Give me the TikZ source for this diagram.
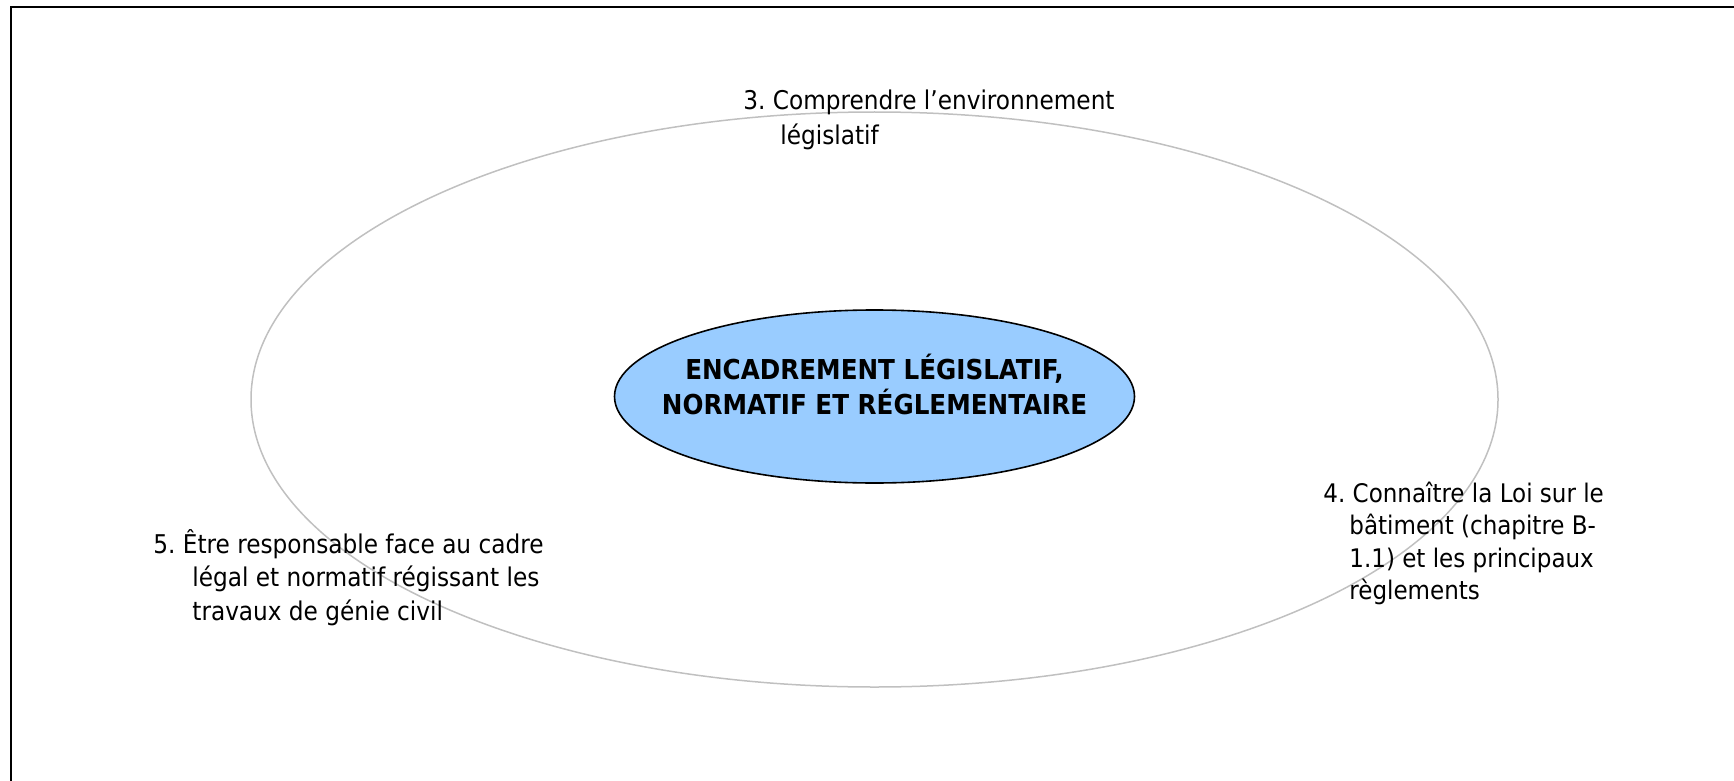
\documentclass[tikz,border=0pt]{standalone}
\usepackage{fontspec}
\setmainfont{DejaVu Sans Condensed}
\usetikzlibrary{shapes.geometric}
\definecolor{ringgray}{HTML}{C0C0C0}
\definecolor{coreblue}{HTML}{99CCFF}
\frenchspacing
\begin{document}
\begin{tikzpicture}[x=0.5pt,y=-0.5pt,
  lbl/.style={inner sep=0pt, anchor=base west},
  ringstyle/.style={ellipse, draw=ringgray, line width=0.75pt, inner sep=0pt},
  corestyle/.style={ellipse, draw=black, fill=coreblue, line width=0.8pt, inner sep=0pt},
  titlestyle/.style={inner sep=0pt, anchor=base, font=\bfseries\fontsize{13.7}{16}\selectfont}]
\useasboundingbox (0,0) rectangle (1734,781);
\draw[line width=1pt] (11,781) -- (11,7.5) -- (1734,7.5);
\node[ringstyle, minimum width=623.5pt, minimum height=287.5pt] (ring) at (874.5,399.5) {};
\node[corestyle, minimum width=260pt, minimum height=86.5pt] (core) at (874.5,396.5) {};
\node[titlestyle] (title) at (874.5,379) {\begin{tabular}[t]{@{}c@{}}ENCADREMENT LÉGISLATIF,\\NORMATIF ET RÉGLEMENTAIRE\end{tabular}};
\node[lbl, font=\fontsize{12.9}{17.2}\selectfont] (l3) at (743,110) {\begin{tabular}[t]{@{}l@{}}3. Comprendre l’environnement\\\hspace*{18.5pt}législatif\end{tabular}};
\node[lbl, font=\fontsize{12.9}{16.8}\selectfont] (l5) at (153,553) {\begin{tabular}[t]{@{}l@{}}5. Être responsable face au cadre\\\hspace*{19.5pt}légal et normatif régissant les\\\hspace*{19.5pt}travaux de génie civil\end{tabular}};
\node[lbl, font=\fontsize{12.8}{16.3}\selectfont] (l4) at (1323,502) {\begin{tabular}[t]{@{}l@{}}4. Connaître la Loi sur le\\\hspace*{13pt}bâtiment (chapitre B-\\\hspace*{13pt}1.1) et les principaux\\\hspace*{13pt}règlements\end{tabular}};
\end{tikzpicture}
\end{document}
